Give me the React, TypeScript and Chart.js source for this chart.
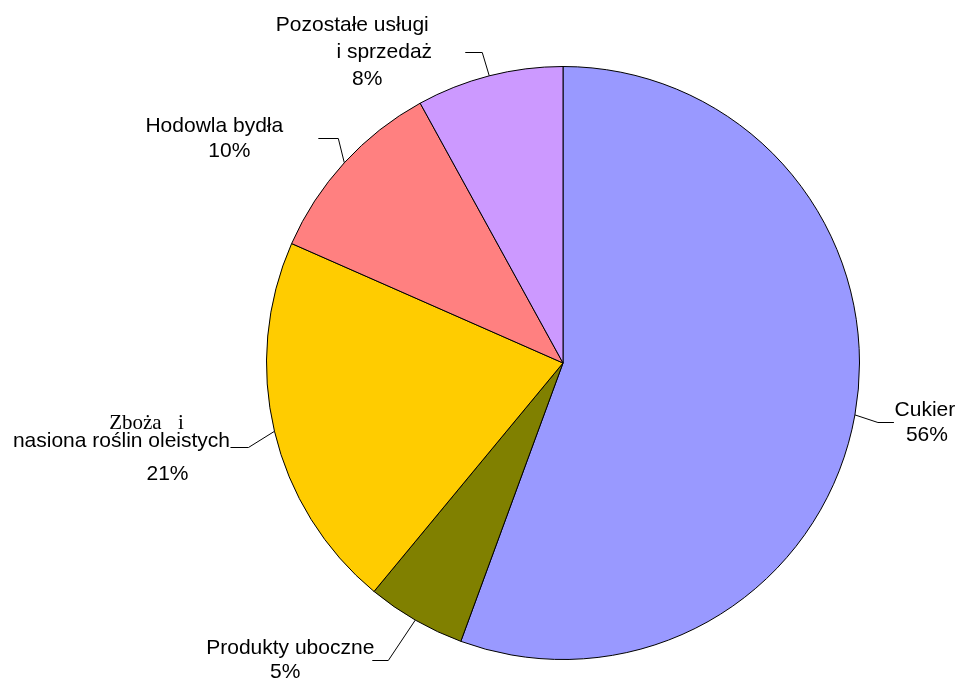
import React, { useEffect, useRef } from "react";
import { Chart, registerables } from "chart.js";

Chart.register(...registerables);

const categories = [
  "Cukier",
  "Produkty uboczne",
  "Zboża i nasiona roślin oleistych",
  "Hodowla bydła",
  "Pozostałe usługi i sprzedaż",
];
const shares = [55.6, 5.4, 20.6, 10.4, 8.0];
const labelLines = [
  ["Cukier"],
  ["Produkty uboczne"],
  ["Zboża i", "nasiona roślin oleistych"],
  ["Hodowla bydła"],
  ["Pozostałe usługi", "i sprzedaż"],
];
const colors = ["#9999FF", "#808000", "#FFCC00", "#FF8080", "#CC99FF"];

// Leader-line and text layout (pixels, relative to arc anchor / line end)
const layout = [
  { elbow: [23, 7], run: 16, text: [[31, -12]], pct: [33, 13] },
  { elbow: [-27, 40], run: -16, text: [[-82, -12.5]], pct: [-87, 12] },
  { elbow: [-26, 16], run: -18, text: [[-84, -24.5], [-109, -6]], pct: [-63, 27], serifFirst: true },
  { elbow: [-6, -25], run: -20, text: [[-104, -12.5]], pct: [-89, 13] },
  { elbow: [-7, -24], run: -17, text: [[-113, -27], [-81, -0.5]], pct: [-98, 27] },
];

const SANS = '21px "Liberation Sans", Arial, sans-serif';
const SERIF = '21px "Liberation Serif", "Times New Roman", serif';

const labelPlugin = {
  id: "leaderLabels",
  afterDatasetsDraw(chart: any) {
    const ctx = chart.ctx as CanvasRenderingContext2D;
    const meta = chart.getDatasetMeta(0);
    const total = shares.reduce((a, b) => a + b, 0);
    ctx.save();
    meta.data.forEach((arc: any, i: number) => {
      const p = arc.getProps(["x", "y", "startAngle", "endAngle", "outerRadius"], true);
      const mid = (p.startAngle + p.endAngle) / 2;
      const ax = p.x + Math.cos(mid) * p.outerRadius;
      const ay = p.y + Math.sin(mid) * p.outerRadius;
      const L = layout[i];
      const ex = ax + L.elbow[0];
      const ey = Math.round(ay + L.elbow[1]) + 0.5;
      const hx = ex + L.run;
      ctx.strokeStyle = "#000";
      ctx.lineWidth = 1;
      ctx.beginPath();
      ctx.moveTo(ax, ay);
      ctx.lineTo(ex, ey);
      ctx.lineTo(hx, ey);
      ctx.stroke();

      ctx.fillStyle = "#000";
      ctx.textAlign = "center";
      ctx.textBaseline = "middle";
      labelLines[i].forEach((line, j) => {
        if (L.serifFirst && j === 0) {
          ctx.font = SERIF;
          (ctx as any).wordSpacing = "11px";
        } else {
          ctx.font = SANS;
          (ctx as any).wordSpacing = "0px";
        }
        ctx.fillText(line, hx + L.text[j][0], ey + L.text[j][1]);
      });
      ctx.font = SANS;
      (ctx as any).wordSpacing = "0px";
      const pct = Math.round((shares[i] / total) * 100) + "%";
      ctx.fillText(pct, hx + L.pct[0], ey + L.pct[1]);
    });
    ctx.restore();
  },
};

export default function App() {
  const ref = useRef<HTMLCanvasElement>(null);
  useEffect(() => {
    if (!ref.current) return;
    const chart = new Chart(ref.current, {
      type: "pie",
      data: {
        labels: categories,
        datasets: [
          {
            data: shares,
            backgroundColor: colors,
            borderColor: "#000",
            borderWidth: 1,
            hoverOffset: 0,
          },
        ],
      },
      options: {
        responsive: false,
        animation: false,
        events: [],
        layout: { padding: { left: 266, right: 102, top: 66, bottom: 23 } },
        plugins: {
          legend: { display: false },
          tooltip: { enabled: false },
        },
      },
      plugins: [labelPlugin],
    });
    return () => chart.destroy();
  }, []);
  return (
    <div style={{ position: "fixed", left: 0, top: 0, width: 962, height: 683, background: "#fff" }}>
      <canvas ref={ref} width={962} height={683} />
    </div>
  );
}
